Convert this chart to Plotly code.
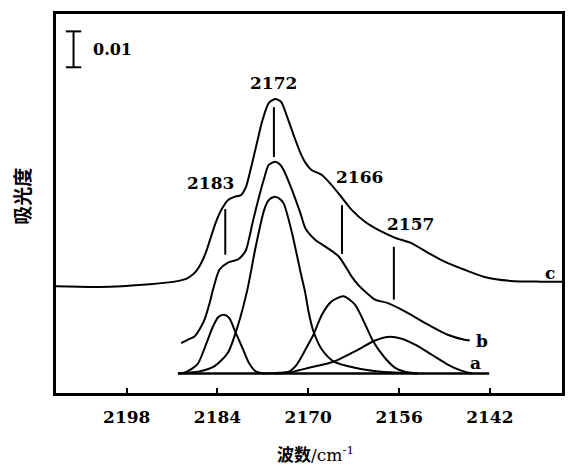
import plotly.graph_objects as go

# ---------------- data (wavenumber / cm^-1, absorbance) ----------------
# spectrum c (offset)
wn_c = [2209.0, 2202.1, 2194.4, 2190.6, 2188.6, 2187.5, 2186.5, 2185.7, 2185.0, 2184.3,
        2183.4, 2182.4, 2181.4, 2180.4, 2179.6, 2179.1, 2178.0, 2177.1, 2176.1, 2175.1,
        2174.2, 2173.3, 2172.2, 2171.2, 2170.4, 2169.5, 2167.9, 2166.4, 2164.9, 2163.3,
        2161.2, 2159.2, 2156.6, 2154.2, 2151.5, 2148.9, 2145.9, 2142.8, 2138.8, 2134.2, 2130.7]
abs_c = [0.0243, 0.0241, 0.0249, 0.0256, 0.0266, 0.0281, 0.0308, 0.0342, 0.0381, 0.0419,
         0.0456, 0.0483, 0.0492, 0.0497, 0.0520, 0.0553, 0.0636, 0.0703, 0.0753, 0.0765,
         0.0757, 0.0717, 0.0661, 0.0614, 0.0586, 0.0567, 0.0553, 0.0525, 0.0492, 0.0456,
         0.0422, 0.0400, 0.0378, 0.0364, 0.0336, 0.0311, 0.0289, 0.0269, 0.0258, 0.0256, 0.0256]

# spectrum b
wn_b = [2189.6, 2188.6, 2187.5, 2186.8, 2186.0, 2185.2, 2184.7, 2183.7, 2182.4, 2180.9,
        2180.2, 2179.6, 2179.1, 2178.6, 2177.6, 2176.8, 2176.1, 2175.1, 2174.4, 2173.8,
        2172.5, 2171.2, 2170.4, 2168.9, 2167.4, 2165.3, 2163.3, 2162.3, 2161.2, 2159.7,
        2157.7, 2155.1, 2151.5, 2148.5, 2145.9, 2145.1]
abs_b = [0.0085, 0.0094, 0.0104, 0.0122, 0.0150, 0.0197, 0.0233, 0.0289, 0.0309, 0.0317,
         0.0328, 0.0344, 0.0378, 0.0419, 0.0492, 0.0544, 0.0581, 0.0590, 0.0583, 0.0567,
         0.0511, 0.0446, 0.0403, 0.0372, 0.0354, 0.0326, 0.0270, 0.0247, 0.0228, 0.0206,
         0.0196, 0.0173, 0.0136, 0.0108, 0.0094, 0.0092]

# baseline a
wn_a = [2190.1, 2142.1]
abs_a = [0.0, 0.0]

# fitted components of a
wn_p1 = [2190.1, 2188.9, 2187.8, 2187.0, 2186.3, 2185.5, 2184.7, 2183.9, 2183.0, 2182.2,
         2181.2, 2180.1, 2179.1, 2178.1, 2176.8]
abs_p1 = [0.0, 0.0004, 0.0015, 0.0028, 0.0056, 0.0094, 0.0131, 0.0157, 0.0164, 0.0155,
          0.0114, 0.0069, 0.0028, 0.0006, 0.0]

wn_p2 = [2189.8, 2188.3, 2186.8, 2184.5, 2182.4, 2180.9, 2179.4, 2178.1, 2176.8, 2176.1,
         2175.3, 2174.5, 2173.8, 2172.5, 2171.2, 2170.5, 2169.9, 2169.2, 2167.9, 2166.1,
         2162.8, 2158.7, 2153.1]
abs_p2 = [0.0, 0.0003, 0.0006, 0.0020, 0.0058, 0.0131, 0.0233, 0.0354, 0.0456, 0.0483,
          0.0492, 0.0488, 0.0474, 0.0391, 0.0283, 0.0228, 0.0167, 0.0117, 0.0067, 0.0034,
          0.0016, 0.0005, 0.0001]

wn_p3 = [2176.8, 2174.5, 2173.0, 2171.9, 2171.0, 2170.1, 2169.2, 2167.9, 2166.4, 2164.6,
         2162.8, 2161.2, 2160.0, 2158.2, 2156.6, 2155.1, 2153.1]
abs_p3 = [0.0, 0.0002, 0.0005, 0.0022, 0.0048, 0.0078, 0.0108, 0.0164, 0.0201, 0.0215,
          0.0192, 0.0136, 0.0090, 0.0044, 0.0016, 0.0005, 0.0]

wn_p4 = [2175.3, 2173.0, 2169.9, 2166.1, 2162.8, 2159.7, 2157.7, 2155.6, 2153.6, 2151.0,
         2148.5, 2146.4, 2144.7]
abs_p4 = [0.0, 0.0003, 0.0016, 0.0033, 0.0062, 0.0092, 0.0102, 0.0097, 0.0081, 0.0053,
          0.0025, 0.0008, 0.0]

# peak markers
peak_labels = ["2183", "2172", "2166", "2157"]
peak_wn = [2182.8, 2175.3, 2164.8, 2156.8]
peak_top = [0.0458, 0.0742, 0.0469, 0.0353]
peak_bottom = [0.0331, 0.0603, 0.0333, 0.0206]

# axis ticks
tick_vals = [2198, 2184, 2170, 2156, 2142]
tick_text = ["2198", "2184", "2170", "2156", "2142"]

scale_value = 0.01

# ---------------- figure ----------------
NUM_FONT = "DejaVu Serif"
fig = go.Figure()

def add_curve(x, y, w=2.0):
    fig.add_trace(go.Scatter(x=x, y=y, mode="lines",
                             line=dict(color="black", width=w, shape="spline", smoothing=0.7),
                             hoverinfo="skip", showlegend=False))

add_curve(wn_a, abs_a, 2.6)
for xs, ys in [(wn_p1, abs_p1), (wn_p2, abs_p2), (wn_p3, abs_p3), (wn_p4, abs_p4)]:
    add_curve(xs, ys, 2.0)
add_curve(wn_b, abs_b, 2.0)
add_curve(wn_c, abs_c, 2.0)

# vertical peak marker lines
lx, ly = [], []
for x, t, b in zip(peak_wn, peak_top, peak_bottom):
    lx += [x, x, None]
    ly += [t, b, None]
fig.add_trace(go.Scatter(x=lx, y=ly, mode="lines", line=dict(color="black", width=2),
                         hoverinfo="skip", showlegend=False))

label_shift = {"2183": (-15, 26), "2172": (0, 24), "2166": (18, 28), "2157": (17, 23)}
for lab, x, t in zip(peak_labels, peak_wn, peak_top):
    dx, dy = label_shift[lab]
    fig.add_annotation(x=x, y=t, text="<b>%s</b>" % lab, showarrow=False,
                       xshift=dx, yshift=dy, yanchor="middle",
                       font=dict(family=NUM_FONT, size=17, color="black"))

# curve labels (anchored on points inside the axis range)
for txt, x, y, dx, dy in [("b", wn_b[-1], abs_b[-1], 12, 0),
                          ("a", wn_a[-1], abs_a[-1], -14, 11),
                          ("c", wn_c[-2], abs_c[-2], 10, 9)]:
    fig.add_annotation(x=x, y=y, text="<b>%s</b>" % txt, showarrow=False,
                       xshift=dx, yshift=dy, yanchor="middle",
                       font=dict(family=NUM_FONT, size=17, color="black"))

# scale bar (0.01 absorbance)
bar_x = 2206.2
bar_base = 0.0853
fig.add_trace(go.Scatter(x=[bar_x, bar_x], y=[bar_base, bar_base + scale_value],
                         mode="lines+markers",
                         line=dict(color="black", width=2),
                         marker=dict(symbol="line-ew-open", size=11,
                                     line=dict(color="black", width=2)),
                         hoverinfo="skip", showlegend=False))
fig.add_annotation(x=bar_x, y=bar_base + scale_value / 2, text="<b>0.01</b>",
                   showarrow=False, xanchor="left", xshift=17, yanchor="middle",
                   font=dict(family=NUM_FONT, size=16, color="black"))

# axis titles
fig.add_annotation(xref="paper", yref="paper", x=0.512, y=0, yshift=-61,
                   text="<b>波数</b>/cm<sup>-1</sup>", showarrow=False, yanchor="middle",
                   font=dict(family="DejaVu Serif, Noto Sans CJK SC", size=17, color="black"))
fig.add_annotation(xref="paper", yref="paper", x=0, xshift=-34, y=0.518,
                   text="<b>吸光度</b>", showarrow=False, textangle=-90,
                   xanchor="center", yanchor="middle",
                   font=dict(family="Noto Sans CJK SC", size=19, color="black"))

fig.update_layout(
    width=568, height=465,
    margin=dict(l=55.5, r=3, t=13.5, b=71.5),
    paper_bgcolor="white", plot_bgcolor="white",
    showlegend=False,
    xaxis=dict(range=[2208.905, 2130.87], tickvals=tick_vals, ticktext=tick_text,
               ticks="inside", ticklen=5, tickwidth=2, tickcolor="black",
               showline=True, linewidth=3, linecolor="black", mirror=True,
               showgrid=False, zeroline=False, ticklabelstandoff=7,
               tickfont=dict(family=NUM_FONT, size=17, color="black", weight="bold")),
    yaxis=dict(range=[-0.00542, 0.10014], showticklabels=False, ticks="",
               showline=True, linewidth=3, linecolor="black", mirror=True,
               showgrid=False, zeroline=False),
)

# place the figure at the page origin (no default body margin, no scrollbars)
page_fix = ("document.body.style.margin='0';"
            "document.documentElement.style.overflow='hidden';"
            "document.body.style.overflow='hidden';")
fig.write_html("out.html", post_script=page_fix,
               config={"displayModeBar": False, "staticPlot": True})
